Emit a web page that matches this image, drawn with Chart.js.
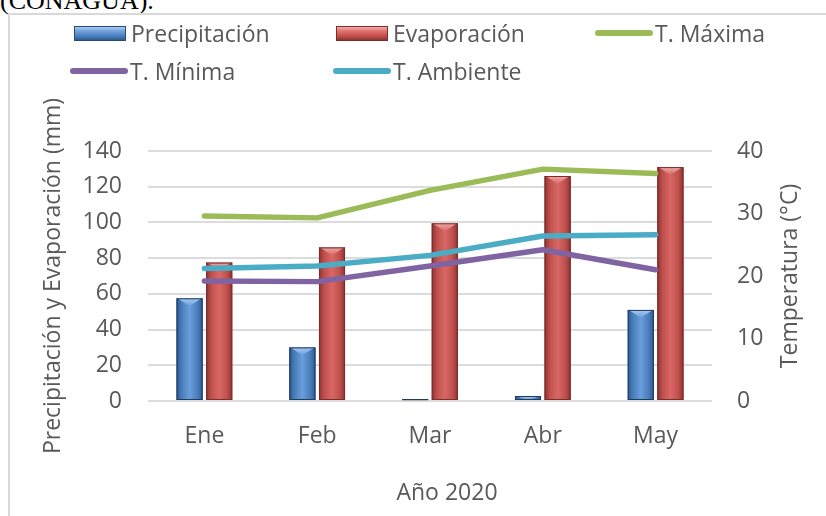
<!DOCTYPE html>
<html lang="es">
<head>
<meta charset="utf-8">
<title>Precipitación, evaporación y temperatura 2020</title>
<script src="https://cdn.jsdelivr.net/npm/chart.js@4.4.1/dist/chart.umd.min.js"></script>
<style>
    html, body { margin: 0; padding: 0; background: #fff; }
    body { width: 826px; height: 516px; position: relative; overflow: hidden; font-family: "Open Sans", sans-serif; }
    #fuente { position: absolute; left: 0; top: -12px; font: 26px/26px "Liberation Serif", "Times New Roman", serif; color: #000; white-space: nowrap; }
    #marco { position: absolute; left: 8px; top: 13px; width: 900px; height: 600px; border-top: 2px solid #d9d9d9; border-left: 2px solid #d9d9d9; }
    #chartContainer { position: absolute; left: 0; top: 0; width: 826px; height: 516px; }
    .leyenda { position: absolute; height: 30px; display: flex; align-items: center; font-size: 23px; color: #595959; white-space: nowrap; }
    .caja { width: 50px; height: 13px; margin-right: 5px; border: 1px solid #2b4a72; }
    .caja.azul { background: linear-gradient(to bottom, #a9cbf2 0%, #6c9fda 35%, #4a7ebb 70%, #2d5a91 100%); }
    .caja.roja { background: linear-gradient(to bottom, #f2a9a7 0%, #de6d6a 35%, #c0504d 70%, #8c3331 100%); border-color: #7a2d2b; }
    .linea { width: 58px; height: 6px; border-radius: 3px; margin-right: 2px; }
</style>
</head>
<body>
<div id="fuente">(CONAGUA).</div>
<div id="marco"></div>
<div id="chartContainer"><canvas id="grafica"></canvas></div>

<!-- Leyenda en HTML para poder alinear las columnas como en el original -->
<div class="leyenda" style="left:74px; top:18px;"><div class="caja azul"></div>Precipitación</div>
<div class="leyenda" style="left:336px; top:18px;"><div class="caja roja"></div>Evaporación</div>
<div class="leyenda" style="left:595px; top:18px;"><div class="linea" style="background:#9bbb59"></div>T. Máxima</div>
<div class="leyenda" style="left:70px; top:56px;"><div class="linea" style="background:#8064a2"></div>T. Mínima</div>
<div class="leyenda" style="left:333px; top:56px;"><div class="linea" style="background:#4bacc6"></div>T. Ambiente</div>

<script>
// Datos (año 2020)
const meses = ["Ene", "Feb", "Mar", "Abr", "May"];
const precipitacion = [57.5, 30, 1, 2.8, 51];
const evaporacion = [77.5, 86, 99.5, 126, 131];
const tMaxima = [29.6, 29.3, 33.7, 37.1, 36.4];
const tMinima = [19.2, 19.1, 21.6, 24.2, 21.0];
const tAmbiente = [21.2, 21.6, 23.3, 26.4, 26.6];

// Ejes
const ticksIzq = { min: 0, max: 140, paso: 20 };
const ticksDer = { min: 0, max: 40, paso: 10 };
const tituloX = "Año 2020";
const tituloDer = "Temperatura (°C)";

const gris = "#595959";
const fuente = { family: "'Open Sans', sans-serif", size: 23 };

// Colores del efecto "bisel" de las barras
const biselAzul = { oscuro: "#2d5a91", medio: "#4a7ebb", claro: "#6a9ddb", tapa: "#a9cbf2", borde: "#1f3b5e" };
const biselRojo = { oscuro: "#8c3331", medio: "#c0504d", claro: "#d96865", tapa: "#eeaaa8", borde: "#7a2d2b" };

// Plugin que pinta las barras con degradado y la tapa en forma de triangulo
const biselBarras = {
    id: "biselBarras",
    afterDatasetDraw(chart, args) {
        const meta = args.meta;
        if (meta.type !== "bar") return;
        const c = chart.data.datasets[args.index].bisel;
        const ctx = chart.ctx;
        ctx.save();
        meta.data.forEach(bar => {
            const { x, y, base, width } = bar.getProps(["x", "y", "base", "width"], true);
            const izq = x - width / 2, der = x + width / 2;
            const alto = base - y;
            if (alto <= 0) return;
            const g = ctx.createLinearGradient(izq, 0, der, 0);
            g.addColorStop(0, c.oscuro);
            g.addColorStop(0.2, c.medio);
            g.addColorStop(0.5, c.claro);
            g.addColorStop(0.8, c.medio);
            g.addColorStop(1, c.oscuro);
            ctx.fillStyle = g;
            ctx.fillRect(izq, y, width, alto);

            // tapa superior
            const h = Math.min(width * 0.3, alto);
            const gt = ctx.createLinearGradient(0, y, 0, y + h);
            gt.addColorStop(0, c.tapa);
            gt.addColorStop(1, c.claro);
            ctx.fillStyle = gt;
            ctx.beginPath();
            ctx.moveTo(izq + 1, y);
            ctx.lineTo(der - 1, y);
            ctx.lineTo(x, y + h);
            ctx.closePath();
            ctx.fill();

            ctx.strokeStyle = c.borde;
            ctx.lineWidth = 1;
            ctx.strokeRect(izq + 0.5, y + 0.5, width - 1, alto - 1);
        });
        ctx.restore();
    }
};

// Titulos del eje X y del eje derecho (el derecho se lee de abajo hacia arriba, como en Excel)
const titulosEjes = {
    id: "titulosEjes",
    afterDraw(chart) {
        const ctx = chart.ctx;
        const area = chart.chartArea;
        ctx.save();
        ctx.fillStyle = gris;
        ctx.font = "23px 'Open Sans', sans-serif";
        ctx.textAlign = "center";
        ctx.textBaseline = "middle";
        ctx.fillText(tituloX, (area.left + area.right) / 2 + 17, 493);

        const y1 = chart.scales.y1;
        ctx.translate(y1.right - 36, (area.top + area.bottom) / 2);
        ctx.rotate(-Math.PI / 2);
        ctx.fillText(tituloDer, 0, 0);
        ctx.restore();
    }
};

const lineaBase = {
    type: "line",
    yAxisID: "y1",
    borderWidth: 5.5,
    pointRadius: 0,
    tension: 0,
    borderCapStyle: "round",
    borderJoinStyle: "round",
    order: 1
};

new Chart(document.getElementById("grafica"), {
    type: "bar",
    data: {
        labels: meses,
        datasets: [
            {
                label: "Precipitación", data: precipitacion, yAxisID: "y",
                backgroundColor: biselAzul.medio, bisel: biselAzul, order: 2,
                categoryPercentage: 0.525, barPercentage: 0.88
            },
            {
                label: "Evaporación", data: evaporacion, yAxisID: "y",
                backgroundColor: biselRojo.medio, bisel: biselRojo, order: 2,
                categoryPercentage: 0.525, barPercentage: 0.88
            },
            { ...lineaBase, label: "T. Máxima", data: tMaxima, borderColor: "#9bbb59", backgroundColor: "#9bbb59" },
            { ...lineaBase, label: "T. Mínima", data: tMinima, borderColor: "#8064a2", backgroundColor: "#8064a2" },
            { ...lineaBase, label: "T. Ambiente", data: tAmbiente, borderColor: "#4bacc6", backgroundColor: "#4bacc6" }
        ]
    },
    options: {
        responsive: true,
        maintainAspectRatio: false,
        animation: false,
        layout: { padding: { top: 151, left: 0, right: 0, bottom: 0 } },
        plugins: {
            legend: { display: false },
            tooltip: { enabled: false }
        },
        scales: {
            x: {
                grid: { display: false, drawTicks: false },
                border: { display: false },
                ticks: { color: gris, font: fuente, padding: 22 },
                afterFit: s => { s.height = 115; }
            },
            y: {
                position: "left",
                min: ticksIzq.min, max: ticksIzq.max,
                grid: { color: "#dcdcdc", lineWidth: 2, drawTicks: false },
                border: { display: false },
                ticks: { stepSize: ticksIzq.paso, color: gris, font: fuente, padding: 26 },
                title: { display: true, text: "Precipitación y Evaporación (mm)", color: gris, font: fuente, padding: { top: 40, bottom: 0 } },
                afterFit: s => { s.width = 148; }
            },
            y1: {
                position: "right",
                min: ticksDer.min, max: ticksDer.max,
                grid: { display: false, drawTicks: false },
                border: { display: false },
                ticks: { stepSize: ticksDer.paso, color: gris, font: fuente, padding: 25 },
                afterFit: s => { s.width = 114; }
            }
        }
    },
    plugins: [biselBarras, titulosEjes]
});
</script>
</body>
</html>
